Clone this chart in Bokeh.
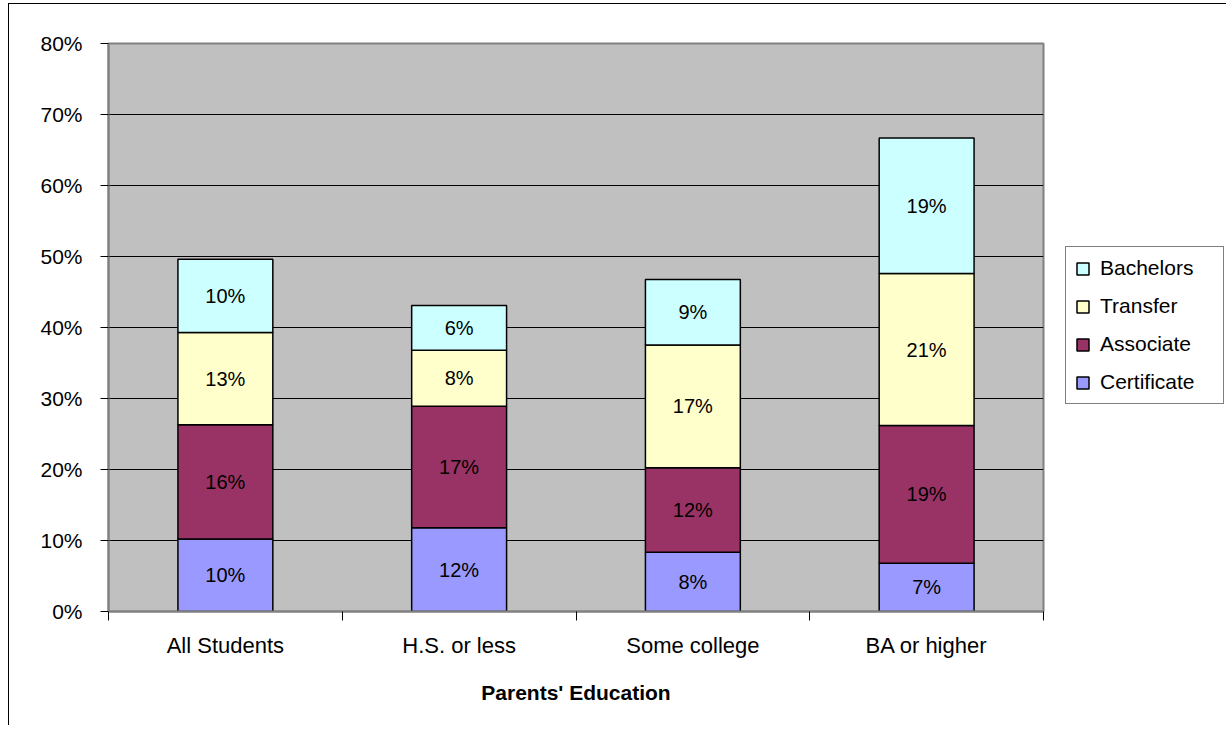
from bokeh.plotting import figure
from bokeh.models import (ColumnDataSource, Range1d, FixedTicker, PrintfTickFormatter,
                          Legend, LegendItem)
from bokeh.core.properties import value
from bokeh.embed import file_html
from bokeh.resources import INLINE

categories = ["All Students", "H.S. or less", "Some college", "BA or higher"]
series = ["Certificate", "Associate", "Transfer", "Bachelors"]
certificate = [10.2, 11.8, 8.35, 6.8]
associate = [16.1, 17.1, 11.9, 19.4]
transfer = [13.0, 7.9, 17.3, 21.4]
bachelors = [10.3, 6.3, 9.2, 19.1]
colors = ["#9999FF", "#993366", "#FFFFCC", "#CCFFFF"]
y_ticks = [0, 10, 20, 30, 40, 50, 60, 70, 80]

FONT = "Liberation Sans"

x = [i + 0.5 for i in range(len(categories))]
data = dict(x=x, Certificate=certificate, Associate=associate,
            Transfer=transfer, Bachelors=bachelors)
src = ColumnDataSource(data)

p = figure(frame_width=935, frame_height=568, output_backend="svg", toolbar_location=None,
           x_range=Range1d(0, len(categories)), y_range=Range1d(0, 80),
           min_border_left=99, min_border_right=179, min_border_top=39,
           min_border_bottom=114)
p.background_fill_color = "#C0C0C0"
p.border_fill_color = "white"
p.outline_line_color = "#808080"
p.outline_line_width = 2

renderers = p.vbar_stack(series, x="x", width=0.406, source=src, color=colors,
                         line_color="black", line_width=1.5)

# data labels
lx, ly, lt = [], [], []
vals = [certificate, associate, transfer, bachelors]
for i in range(len(categories)):
    base = 0.0
    for s in vals:
        v = s[i]
        lx.append(x[i])
        ly.append(base + v / 2)
        lt.append(f"{round(v)}%")
        base += v
p.text(x=lx, y=ly, text=lt, text_align="center", text_baseline="middle",
       text_font=value(FONT), text_font_size="20px", text_color="black")

# axes
p.xgrid.grid_line_color = None
p.ygrid.grid_line_color = "black"
p.ygrid.grid_line_width = 1
p.ygrid.ticker = FixedTicker(ticks=y_ticks)

p.yaxis.ticker = FixedTicker(ticks=y_ticks)
p.yaxis.formatter = PrintfTickFormatter(format="%d%%")
p.yaxis.major_label_text_font = FONT
p.yaxis.major_label_text_font_size = "21px"
p.yaxis.major_label_text_color = "black"
p.yaxis.axis_line_color = "#808080"
p.yaxis.axis_line_width = 2
p.yaxis.major_tick_line_color = "black"
p.yaxis.major_tick_out = 8
p.yaxis.major_tick_in = 0
p.yaxis.minor_tick_line_color = None
p.yaxis.major_label_standoff = 18

p.xaxis.ticker = FixedTicker(ticks=x, minor_ticks=list(range(len(categories) + 1)))
p.xaxis.major_label_overrides = {xx: c for xx, c in zip(x, categories)}
p.xaxis.major_label_text_font = FONT
p.xaxis.major_label_text_font_size = "22px"
p.xaxis.major_label_text_color = "black"
p.xaxis.major_tick_line_color = None
p.xaxis.major_tick_out = 0
p.xaxis.major_tick_in = 0
p.xaxis.minor_tick_line_color = "black"
p.xaxis.minor_tick_out = 9
p.xaxis.minor_tick_in = 0
p.xaxis.axis_line_color = "#808080"
p.xaxis.axis_line_width = 2
p.xaxis.major_label_standoff = 12
p.xaxis.axis_label = "Parents' Education"
p.xaxis.axis_label_text_font = FONT
p.xaxis.axis_label_text_font_style = "bold"
p.xaxis.axis_label_text_font_size = "21px"
p.xaxis.axis_label_text_color = "black"
p.xaxis.axis_label_standoff = 20

items = [LegendItem(label=s, renderers=[r]) for s, r in zip(series, renderers)]
items.reverse()
legend = Legend(items=items, location=(22, 207), orientation="vertical",
                label_text_font=FONT, label_text_font_size="21px",
                label_text_color="black", glyph_width=15, glyph_height=15,
                label_standoff=10, label_height=24, label_width=114,
                spacing=14, padding=9, margin=0,
                border_line_color="black", border_line_width=1,
                background_fill_color="white", background_fill_alpha=1)
p.add_layout(legend, "right")

p.styles = {"border-left": "1px solid black", "border-top": "1px solid black",
            "margin-left": "8px", "margin-top": "3px"}

open("out.html", "w").write(file_html(p, INLINE))
